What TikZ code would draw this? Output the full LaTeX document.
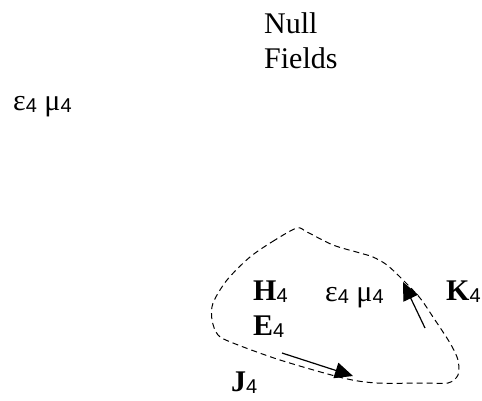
\documentclass[tikz,border=0pt]{standalone}
\usepackage{fontspec}
\setmainfont{Liberation Serif}
\setsansfont{Liberation Sans}
\usetikzlibrary{arrows.meta}
\newcommand\subfour{\raisebox{-2pt}{\fontsize{20}{20}\selectfont\sffamily 4}}
\begin{document}
\begin{tikzpicture}[x=1pt,y=-1pt,
  txt/.style={inner sep=0pt,anchor=base west,font=\fontsize{30}{36}\selectfont},
  boundary/.style={line width=1pt,dash pattern=on 6pt off 4pt},
  flow/.style={line width=1.2pt,-{Triangle[length=18pt,width=16pt]}}]
\useasboundingbox (0,0) rectangle (482,400);
\node[txt] (null) at (264,33) {Null};
\node[txt] (fields) at (264,68) {Fields};
\node[txt] (outer) at (13,110) {ε\subfour\ μ\subfour};
\node[txt] (H) at (253,300) {\textbf{H}\subfour};
\node[txt] (E) at (253,335) {\textbf{E}\subfour};
\node[txt] (J) at (231,391) {\textbf{J}\subfour};
\node[txt] (inner) at (325,301) {ε\subfour\ μ\subfour};
\node[txt] (K) at (446,300) {\textbf{K}\subfour};
\draw[boundary] plot[smooth cycle,tension=0.5] coordinates {
  (297,228) (275,240) (250,257) (227,280) (213,303) (212,320) (218,335)
  (233,343) (280,360) (343,378) (377,383) (423,383) (448,383) (458,375)
  (458,360) (450,343) (433,317) (420,298) (403,280) (387,265) (373,257)
  (360,253) (333,245) (307,232)};
\coordinate (j0) at (282,353);
\coordinate (j1) at (353,376);
\coordinate (k0) at (425,328);
\coordinate (k1) at (403,282);
\draw[flow] (j0) -- (j1);
\draw[flow] (k0) -- (k1);
\end{tikzpicture}
\end{document}
